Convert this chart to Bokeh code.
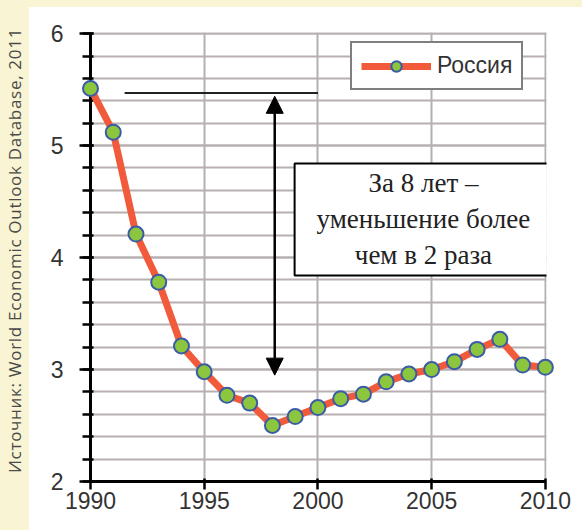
from bokeh.plotting import figure
from bokeh.models import (Range1d, SingleIntervalTicker, Arrow, NormalHead, Label,
                          Div, Legend, LegendItem)
from bokeh.layouts import row, column
from bokeh.embed import file_html
from bokeh.resources import INLINE

# ---- data ----
years = list(range(1990, 2011))
russia = [5.51, 5.12, 4.21, 3.78, 3.21, 2.98, 2.77, 2.70, 2.50, 2.58, 2.66,
          2.74, 2.78, 2.89, 2.96, 3.00, 3.07, 3.18, 3.27, 3.04, 3.02]
series_name = "Россия"
note_text = "За 8 лет –\nуменьшение более\nчем в 2 раза"
source_text = "Источник: World Economic Outlook Database, 2011"

CREAM = "#f9f4d3"
LINE_RED = "#f15a3a"
MARK_GREEN = "#8cc63f"
MARK_BLUE = "#3a5ba5"
GRID_COLOR = "#b8b0b0"

p = figure(width=553, height=523,
           x_range=Range1d(1990, 2010.05), y_range=Range1d(2, 6.01),
           output_backend="svg", toolbar_location=None,
           min_border_left=61, min_border_right=36,
           min_border_top=25, min_border_bottom=49, margin=0)
p.outline_line_color = None
p.background_fill_color = "white"
p.border_fill_color = "white"

# x axis
xa = p.xaxis[0]
xa.ticker = SingleIntervalTicker(interval=5, num_minor_ticks=0)
xa.bounds = (1990, 2010)
xa.axis_line_width = 3
xa.axis_line_color = "black"
xa.major_tick_line_width = 2.5
xa.major_tick_line_color = "black"
xa.major_tick_out = 8
xa.major_tick_in = 3
xa.minor_tick_line_color = None
xa.major_label_text_font = "Liberation Sans"
xa.major_label_text_font_size = "23px"
xa.major_label_text_color = "#333333"
xa.major_label_standoff = 2

# y axis
ya = p.yaxis[0]
ya.ticker = SingleIntervalTicker(interval=1, num_minor_ticks=5)
ya.bounds = (2, 6)
ya.axis_line_width = 3
ya.axis_line_color = "black"
ya.major_tick_line_width = 2.5
ya.major_tick_line_color = "black"
ya.major_tick_out = 11
ya.major_tick_in = 3
ya.minor_tick_line_width = 2.5
ya.minor_tick_line_color = "black"
ya.minor_tick_out = 8
ya.minor_tick_in = 3
ya.major_label_text_font = "Liberation Sans"
ya.major_label_text_font_size = "23px"
ya.major_label_text_color = "#333333"
ya.major_label_standoff = 16

# grids (major + minor horizontal lines every 0.2)
p.ygrid.grid_line_color = GRID_COLOR
p.ygrid.grid_line_width = 2
p.ygrid.minor_grid_line_color = GRID_COLOR
p.ygrid.minor_grid_line_width = 2
p.xgrid.grid_line_color = "#b4afb3"
p.xgrid.grid_line_width = 2

# annotations
p.add_layout(Arrow(end=None, x_start=1991.5, y_start=5.47, x_end=2000, y_end=5.47,
                   line_width=2, line_color="#222222"))
p.add_layout(Arrow(start=NormalHead(size=17, fill_color="black", line_color="black"),
                   end=NormalHead(size=17, fill_color="black", line_color="black"),
                   x_start=1998.1, y_start=2.95, x_end=1998.1, y_end=5.44,
                   line_width=2.5, line_color="black"))

# series (drawn at overlay level so edge markers are not cut by the frame)
r_line = p.line(years, russia, line_color=LINE_RED, line_width=7, level="overlay")
r_pts = p.scatter(years, russia, size=15, fill_color=MARK_GREEN,
                  line_color=MARK_BLUE, line_width=2, level="overlay")

legend = Legend(items=[LegendItem(label=series_name, renderers=[r_line, r_pts])],
                location=(260, 391), margin=0, padding=9, label_standoff=6,
                glyph_width=70, glyph_height=26,
                border_line_color="black", border_line_width=2,
                background_fill_color="white", background_fill_alpha=1,
                label_text_font="Liberation Sans", label_text_font_size="23px",
                label_text_color="#333333")
p.add_layout(legend)

p.add_layout(Label(x=2004.64, y=4.34, text=note_text,
                   text_font="Liberation Serif", text_font_size="27px",
                   text_color="#222222", text_align="center", text_baseline="middle",
                   background_fill_color="white", border_line_color="black",
                   border_line_width=2,
                   padding=dict(left=22, right=22, top=5, bottom=5)))

left_strip = Div(text=('<div style="height:500px;width:29px;writing-mode:vertical-rl;'
                       'transform:rotate(180deg);text-align:center;font-family:\'Open Sans\';'
                       'font-size:17px;letter-spacing:0.7px;color:#4a4a4a;white-space:nowrap;'
                       'line-height:29px;">' + source_text + '</div>'),
                 width=29, height=530, margin=0, styles={"background-color": CREAM})
top_strip = Div(text="", width=553, height=7, margin=0,
                styles={"background-color": CREAM})

layout = row(left_strip, column(top_strip, p, spacing=0, margin=0), spacing=0, margin=0)
open("out.html", "w").write(file_html(layout, INLINE))
